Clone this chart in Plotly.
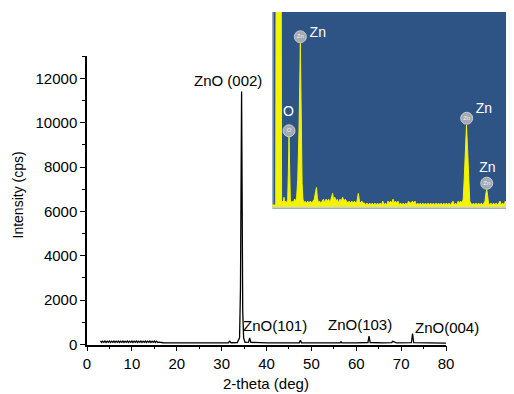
import plotly.graph_objects as go

# ---------------- XRD data (main chart) ----------------
xrd_two_theta = [3.0, 3.25, 3.5, 3.75, 4.0, 4.25, 4.5, 4.75, 5.0, 5.25, 5.5, 5.75, 6.0, 6.25,
                 6.5, 6.75, 7.0, 7.25, 7.5, 7.75, 8.0, 8.25, 8.5, 8.75, 9.0, 9.25, 9.5, 9.75,
                 10.0, 10.25, 10.5, 10.75, 11.0, 11.25, 11.5, 11.75, 12.0, 12.25, 12.5, 12.75,
                 13.0, 13.25, 13.5, 13.75, 14.0, 14.25, 14.5, 14.75, 15.0, 15.25, 15.5, 15.75,
                 16.0, 17.0, 20.0, 25.0, 30.0, 31.5, 31.8, 32.1, 33.5, 34.0, 34.2, 34.35,
                 34.45, 34.55, 34.7, 34.9, 35.2, 36.0, 36.25, 36.5, 40.0, 47.3, 47.55, 47.8,
                 56.4, 56.6, 56.8, 60.0, 62.6, 62.85, 63.1, 66.0, 67.9, 68.1, 69.0, 72.3,
                 72.55, 72.8, 76.0, 80.0]
xrd_intensity = [160, 90, 150, 95, 155, 90, 150, 95, 155, 90, 150, 95, 155, 90,
                 150, 95, 155, 90, 150, 95, 155, 90, 150, 95, 155, 90, 150, 95,
                 155, 90, 150, 95, 155, 90, 150, 95, 155, 90, 150, 95,
                 155, 90, 150, 95, 155, 90, 150, 95, 155, 90, 150, 95,
                 110, 80, 70, 65, 70, 80, 150, 80, 90, 300, 2500, 9200,
                 11400, 7500, 1500, 300, 100, 110, 300, 100, 70, 80, 190, 80,
                 70, 120, 70, 70, 90, 380, 90, 70, 80, 140, 70, 80,
                 490, 80, 70, 60]

peak_labels = ["ZnO (002)", "ZnO(101)", "ZnO(103)", "ZnO(004)"]
peak_label_xpx = [227.5, 274.5, 359.5, 446.5]
peak_label_ypx = [80.5, 325.0, 324.5, 327.0]

x_ticks = [0, 10, 20, 30, 40, 50, 60, 70, 80]
y_ticks = [0, 2000, 4000, 6000, 8000, 10000, 12000]

# ---------------- EDS data (inset) ----------------
eds_kev = [-0.30, -0.13, -0.11, 0.12, 0.14, 0.18, 0.22, 0.25, 0.28, 0.33, 0.38, 0.42, 0.45,
           0.48, 0.51, 0.54, 0.58, 0.63, 0.68, 0.73, 0.78, 0.83, 0.88, 0.94, 1.00, 1.04,
           1.08, 1.12, 1.17, 1.22, 1.28, 1.34, 1.40, 1.46, 1.52, 1.58, 1.64, 1.70, 1.74,
           1.78, 1.83, 1.88, 1.94, 2.00, 2.06, 2.12, 2.18, 2.24, 2.30, 2.36, 2.42, 2.48,
           2.53, 2.58, 2.64, 2.70, 2.76, 2.82, 2.88, 2.94, 3.00, 3.06, 3.12, 3.18, 3.24,
           3.30, 3.36, 3.42, 3.48, 3.54, 3.60, 3.66, 3.71, 3.76, 3.82, 3.88, 3.94, 4.00,
           4.06, 4.12, 4.18, 4.24, 4.30, 4.36, 4.42, 4.48, 4.54, 4.60, 4.66, 4.72, 4.78,
           4.84, 4.90, 4.96, 5.02, 5.08, 5.14, 5.20, 5.25, 5.30, 5.36, 5.42, 5.48, 5.54,
           5.60, 5.66, 5.72, 5.78, 5.84, 5.90, 5.96, 6.02, 6.08, 6.14, 6.20, 6.26, 6.32,
           6.38, 6.44, 6.50, 6.56, 6.62, 6.68, 6.74, 6.80, 6.86, 6.92, 6.98, 7.04, 7.10,
           7.16, 7.22, 7.28, 7.34, 7.40, 7.46, 7.52, 7.58, 7.64, 7.70, 7.76, 7.82, 7.88,
           7.94, 8.00, 8.06, 8.12, 8.18, 8.24, 8.30, 8.36, 8.42, 8.47, 8.52, 8.57, 8.62,
           8.67, 8.72, 8.77, 8.82, 8.88, 8.94, 9.00, 9.06, 9.12, 9.18, 9.24, 9.30, 9.36,
           9.42, 9.47, 9.51, 9.55, 9.59, 9.63, 9.68, 9.74, 9.80, 9.86, 9.92, 9.98, 10.04,
           10.10, 10.16, 10.22, 10.28, 10.34, 10.40, 10.46, 10.52, 10.58, 10.64, 10.70,
           10.80]
eds_counts = [1, 1, 140, 140, 2, 3, 2, 5, 2, 3, 2, 4, 18,
              36, 20, 4, 2, 3, 2, 4, 3, 5, 14, 40, 84, 45,
              12, 4, 2, 3, 2, 3, 2, 3, 2, 3, 4, 8, 10,
              5, 2, 3, 2, 3, 4, 2, 4, 3, 4, 2, 4, 7,
              3, 5, 3, 4, 2, 4, 3, 5, 3, 4, 3, 2, 3,
              2, 3, 2, 3, 2, 3, 7, 3, 2, 3, 2, 2, 1,
              2, 1, 2, 1, 2, 1, 2, 1, 2, 1, 2, 1, 3,
              1, 2, 1, 3, 2, 3, 2, 4, 2, 3, 2, 3, 1,
              2, 1, 2, 1, 2, 1, 3, 2, 2, 3, 2, 3, 1,
              2, 1, 2, 1, 2, 1, 2, 1, 2, 1, 2, 1, 2,
              1, 2, 1, 2, 1, 2, 1, 2, 1, 2, 1, 2, 1,
              2, 3, 1, 2, 1, 3, 2, 3, 2, 4, 15, 32, 42,
              30, 10, 3, 2, 1, 2, 1, 2, 1, 2, 1, 2, 1,
              2, 3, 7, 9, 6, 2, 1, 2, 1, 2, 1, 2, 1,
              2, 3, 1, 2, 1, 3, 1, 2, 1, 2, 1,
              2]

eds_marker_kev = [1.00, 0.48, 8.63, 9.55]
eds_marker_val = [87.3, 39.1, 45.5, 12.2]
eds_element_labels = ["Zn", "O", "Zn", "Zn"]
eds_label_kev = [1.80, 0.46, 9.42, 9.58]
eds_label_val = [89.0, 48.5, 50.0, 20.0]

# The page body has an 8px default margin; the figure fills the rest of the window.
PAGE_W, PAGE_H = 514, 394
OFF = 8
W, H = PAGE_W - OFF, PAGE_H - OFF
FONT = "Arial, Liberation Sans, sans-serif"
FS = 15

def px(xp):
    return (xp - OFF) / W

def py(yp):
    return 1 - (yp - OFF) / H

fig = go.Figure()

# Main XRD curve
fig.add_trace(go.Scatter(
    x=xrd_two_theta, y=xrd_intensity, mode="lines",
    line=dict(color="black", width=1.3), showlegend=False,
    xaxis="x", yaxis="y", hoverinfo="skip"))

# Inset EDS spectrum
fig.add_trace(go.Scatter(
    x=eds_kev, y=eds_counts, mode="lines", fill="tozeroy",
    line=dict(color="#f4f400", width=1), fillcolor="#f4f400",
    showlegend=False, xaxis="x2", yaxis="y2", hoverinfo="skip"))

# Inset peak markers
fig.add_trace(go.Scatter(
    x=eds_marker_kev, y=eds_marker_val, mode="markers+text",
    marker=dict(size=12, color="#a3aab3", line=dict(color="#c8ccd2", width=1)),
    text=eds_element_labels,
    textposition="middle center",
    textfont=dict(size=6, color="#eef0f2", family=FONT),
    showlegend=False, xaxis="x2", yaxis="y2", hoverinfo="skip", cliponaxis=False))

# Inset element labels
fig.add_trace(go.Scatter(
    x=eds_label_kev, y=eds_label_val, mode="text",
    text=eds_element_labels, textposition="middle center",
    textfont=dict(size=14, color="white", family=FONT),
    showlegend=False, xaxis="x2", yaxis="y2", hoverinfo="skip", cliponaxis=False))

annotations = []
for t, xp_, yp_ in zip(peak_labels, peak_label_xpx, peak_label_ypx):
    annotations.append(dict(x=px(xp_), y=py(yp_), xref="paper", yref="paper", text=t,
                            showarrow=False,
                            font=dict(size=FS, color="black", family=FONT),
                            xanchor="center", yanchor="middle"))
annotations.append(dict(x=px(266), y=py(383), xref="paper", yref="paper",
                        text="2-theta (deg)", showarrow=False,
                        font=dict(size=FS, color="black", family=FONT),
                        xanchor="center", yanchor="middle"))
annotations.append(dict(x=px(8.5), y=py(195), xref="paper", yref="paper",
                        text="Intensity (cps)", showarrow=False, textangle=-90,
                        font=dict(size=14, color="black", family=FONT),
                        xanchor="left", yanchor="middle", borderpad=0))

shapes = [
    # inset blue background
    dict(type="rect", xref="paper", yref="paper", x0=px(272), x1=1.0,
         y0=py(209), y1=py(12), fillcolor="#2d5485", line=dict(width=0), layer="below"),
    # inset left border
    dict(type="line", xref="paper", yref="paper", x0=px(272.8), x1=px(272.8),
         y0=py(209), y1=py(12), line=dict(color="#9fb0c4", width=1.5), layer="below"),
    # inset bottom axis line
    dict(type="line", xref="paper", yref="paper", x0=px(272), x1=1.0,
         y0=py(207.8), y1=py(207.8), line=dict(color="#c9ccd0", width=2), layer="above"),
]

fig.update_layout(
    width=W, height=H,
    margin=dict(l=0, r=0, t=0, b=0, autoexpand=False),
    paper_bgcolor="white", plot_bgcolor="rgba(0,0,0,0)",
    font=dict(family=FONT, size=FS, color="black"),
    showlegend=False,
    annotations=annotations,
    shapes=shapes,
    xaxis=dict(domain=[px(87), px(446)], range=[0, 80], tickvals=x_ticks,
               ticktext=[str(v) for v in x_ticks],
               ticks="outside", ticklen=5, tickwidth=1, tickcolor="black",
               minor=dict(dtick=5, ticks="outside", ticklen=3, tickwidth=1, tickcolor="black"),
               showline=True, linecolor="black", linewidth=1.5, showgrid=False,
               zeroline=False, tickfont=dict(size=FS, family=FONT),
               anchor="y", fixedrange=True, automargin=False),
    yaxis=dict(domain=[py(344.5), py(56.1)], range=[0, 13000], tickvals=y_ticks,
               ticktext=[str(v) for v in y_ticks],
               ticks="outside", ticklen=5, tickwidth=1, tickcolor="black",
               minor=dict(dtick=1000, ticks="outside", ticklen=3, tickwidth=1, tickcolor="black"),
               showline=True, linecolor="black", linewidth=1.5, showgrid=False,
               zeroline=False, tickfont=dict(size=FS, family=FONT),
               anchor="x", fixedrange=True, automargin=False),
    xaxis2=dict(domain=[px(272), 1.0], range=[-0.30, 10.80], visible=False,
                anchor="y2", fixedrange=True, automargin=False),
    yaxis2=dict(domain=[py(207), py(12)], range=[0, 100], visible=False,
                anchor="x2", fixedrange=True, automargin=False),
)

fig.write_html("out.html")
